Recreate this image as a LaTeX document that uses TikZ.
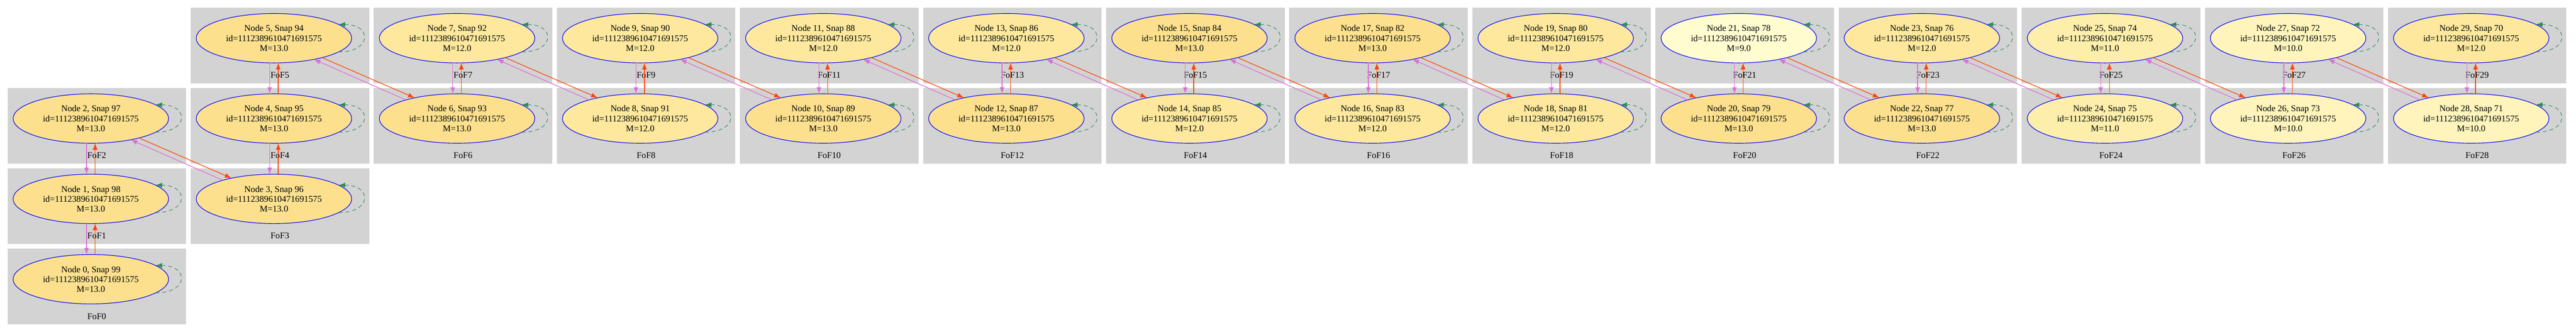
\documentclass[tikz,border=0pt]{standalone}
\usepackage{fontspec}
\setmainfont{Liberation Serif}
\usepackage{tikz}
\usetikzlibrary{arrows.meta,shapes,backgrounds,positioning}
\definecolor{mXIII}{HTML}{FDE08E}
\definecolor{mXII}{HTML}{FEE89D}
\definecolor{mXI}{HTML}{FEEEAB}
\definecolor{mX}{HTML}{FEF4BC}
\definecolor{mIX}{HTML}{FFFDCF}
\definecolor{fofgray}{HTML}{D3D3D3}
\definecolor{orchid}{HTML}{DA70D6}
\definecolor{orangered}{HTML}{FF4500}
\definecolor{seagreen}{HTML}{2E8B57}
\tikzset{
halo/.style={
  ellipse,
  draw=blue,
  line width=0.9pt,
  minimum width=235.9pt,
  minimum height=75pt,
  inner sep=0pt,
  outer sep=0pt,
  align=center,
  font=\fontsize{13.5}{15}\selectfont},
m13/.style={halo, fill=mXIII},
m12/.style={halo, fill=mXII},
m11/.style={halo, fill=mXI},
m10/.style={halo, fill=mX},
m9/.style={halo, fill=mIX},
down/.style={draw=orchid, line width=1pt, -{Latex[length=10pt,width=7.5pt]}},
up/.style={draw=orangered, line width=1pt, -{Latex[length=10pt,width=7.5pt]}},
selfloop/.style={draw=seagreen, line width=0.8pt, dash pattern=on 6pt off 4.5pt,
  -{Latex[length=10pt,width=7.5pt]}},
fofbox/.style={fill=fofgray},
foflabel/.style={font=\fontsize{13.5}{15}\selectfont}
}

\begin{document}
\begin{tikzpicture}[node distance=47pt and 41.9pt]
    \useasboundingbox (-137.85pt,-324pt) rectangle (3770.4pt,180pt);
    % halos, oldest snapshot on the right
    \node [m13] (n2) at (0,0) {Node 2, Snap 97\\id=1112389610471691575\\M=13.0};
    \node [m13, below=of n2] (n1) {Node 1, Snap 98\\id=1112389610471691575\\M=13.0};
    \node [m13, below=of n1] (n0) {Node 0, Snap 99\\id=1112389610471691575\\M=13.0};
    \node [m13, right=of n1] (n3) {Node 3, Snap 96\\id=1112389610471691575\\M=13.0};
    \node [m13, above=of n3] (n4) {Node 4, Snap 95\\id=1112389610471691575\\M=13.0};
    \node [m13, above=of n4] (n5) {Node 5, Snap 94\\id=1112389610471691575\\M=13.0};
    \node [m13, right=of n4] (n6) {Node 6, Snap 93\\id=1112389610471691575\\M=13.0};
    \node [m12, right=of n5] (n7) {Node 7, Snap 92\\id=1112389610471691575\\M=12.0};
    \node [m12, right=of n6] (n8) {Node 8, Snap 91\\id=1112389610471691575\\M=12.0};
    \node [m12, right=of n7] (n9) {Node 9, Snap 90\\id=1112389610471691575\\M=12.0};
    \node [m13, right=of n8] (n10) {Node 10, Snap 89\\id=1112389610471691575\\M=13.0};
    \node [m12, right=of n9] (n11) {Node 11, Snap 88\\id=1112389610471691575\\M=12.0};
    \node [m13, right=of n10] (n12) {Node 12, Snap 87\\id=1112389610471691575\\M=13.0};
    \node [m12, right=of n11] (n13) {Node 13, Snap 86\\id=1112389610471691575\\M=12.0};
    \node [m12, right=of n12] (n14) {Node 14, Snap 85\\id=1112389610471691575\\M=12.0};
    \node [m13, right=of n13] (n15) {Node 15, Snap 84\\id=1112389610471691575\\M=13.0};
    \node [m12, right=of n14] (n16) {Node 16, Snap 83\\id=1112389610471691575\\M=12.0};
    \node [m13, right=of n15] (n17) {Node 17, Snap 82\\id=1112389610471691575\\M=13.0};
    \node [m12, right=of n16] (n18) {Node 18, Snap 81\\id=1112389610471691575\\M=12.0};
    \node [m12, right=of n17] (n19) {Node 19, Snap 80\\id=1112389610471691575\\M=12.0};
    \node [m13, right=of n18] (n20) {Node 20, Snap 79\\id=1112389610471691575\\M=13.0};
    \node [m9, right=of n19] (n21) {Node 21, Snap 78\\id=1112389610471691575\\M=9.0};
    \node [m13, right=of n20] (n22) {Node 22, Snap 77\\id=1112389610471691575\\M=13.0};
    \node [m12, right=of n21] (n23) {Node 23, Snap 76\\id=1112389610471691575\\M=12.0};
    \node [m11, right=of n22] (n24) {Node 24, Snap 75\\id=1112389610471691575\\M=11.0};
    \node [m11, right=of n23] (n25) {Node 25, Snap 74\\id=1112389610471691575\\M=11.0};
    \node [m10, right=of n24] (n26) {Node 26, Snap 73\\id=1112389610471691575\\M=10.0};
    \node [m10, right=of n25] (n27) {Node 27, Snap 72\\id=1112389610471691575\\M=10.0};
    \node [m10, right=of n26] (n28) {Node 28, Snap 71\\id=1112389610471691575\\M=10.0};
    \node [m12, right=of n27] (n29) {Node 29, Snap 70\\id=1112389610471691575\\M=12.0};
    % FoF boxes and their names
    \begin{scope}[on background layer]
    \foreach \n in {0,...,29} {
      \path [fofbox] ([shift={(-126.4pt,46.5pt)}]n\n.center) rectangle ([shift={(144.4pt,-68.25pt)}]n\n.center);
      \node [foflabel] (fof\n) at ([shift={(9pt,-56.25pt)}]n\n.center) {FoF\n};
    }
    \end{scope}
    % self links
    \foreach \n in {0,...,29}
      \path [selfloop] (n\n.-12.6) .. controls +(51pt,0) and +(51pt,0) .. (n\n.12.6);
    % same column
    \foreach \a/\b in {2/1,1/0,4/3,5/4,7/6,9/8,11/10,13/12,15/14,17/16,19/18,21/20,23/22,25/24,27/26,29/28} {
      \path [down] ([xshift=-6.5pt]n\a.south) -- ([xshift=-6.5pt]n\b.north);
      \path [up] ([xshift=6.5pt]n\b.north) -- ([xshift=6.5pt]n\a.south);
    }
    % next column
    \foreach \a/\b in {2/3,5/6,7/8,9/10,11/12,13/14,15/16,17/18,19/20,21/22,23/24,25/26,27/28} {
      \path [up] (n\a.-22) -- (n\b.154.5);
      \path [down] (n\b.160) -- (n\a.-28);
    }
\end{tikzpicture}
\end{document}
